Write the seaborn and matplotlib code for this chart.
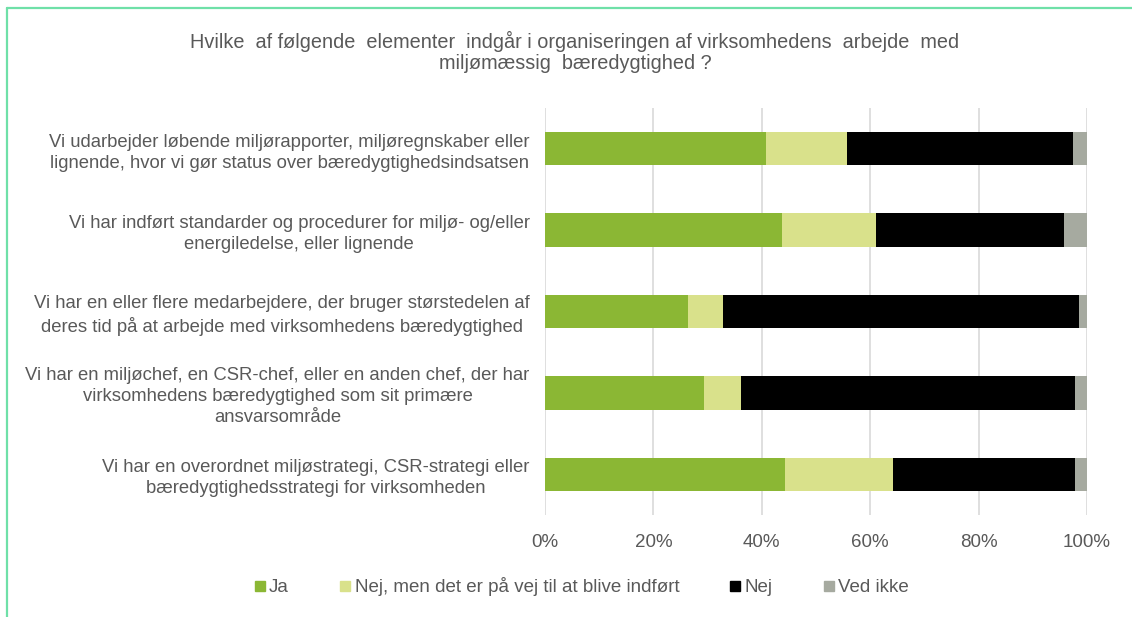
import matplotlib
matplotlib.use("Agg")
import matplotlib.pyplot as plt
from matplotlib.lines import Line2D
from matplotlib.ticker import PercentFormatter
import numpy as np
import pandas as pd
import seaborn as sns

categories = [
    "Vi udarbejder løbende miljørapporter, miljøregnskaber eller\nlignende, hvor vi gør status over bæredygtighedsindsatsen",
    "Vi har indført standarder og procedurer for miljø- og/eller\nenergiledelse, eller lignende",
    "Vi har en eller flere medarbejdere, der bruger størstedelen af\nderes tid på at arbejde med virksomhedens bæredygtighed",
    "Vi har en miljøchef, en CSR-chef, eller en anden chef, der har\nvirksomhedens bæredygtighed som sit primære\nansvarsområde",
    "Vi har en overordnet miljøstrategi, CSR-strategi eller\nbæredygtighedsstrategi for virksomheden",
]
series_names = ["Ja", "Nej, men det er på vej til at blive indført", "Nej", "Ved ikke"]
ja = [40.7, 43.8, 26.3, 29.3, 44.2]
nej_men = [15.0, 17.2, 6.5, 6.8, 20.0]
nej = [41.7, 34.8, 65.8, 61.6, 33.5]
ved_ikke = [2.6, 4.2, 1.4, 2.3, 2.3]
colors = ["#8bb734", "#d9e18b", "#000000", "#a6aaa0"]
title = "Hvilke  af følgende  elementer  indgår i organiseringen af virksomhedens  arbejde  med\nmiljømæssig  bæredygtighed ?"

sns.set_theme(style="white")
plt.rcParams["font.family"] = ["Liberation Sans", "DejaVu Sans"]
text_color = "#595959"

fig = plt.figure(figsize=(11.32, 6.17), dpi=100)
ax = fig.add_axes([545 / 1132, 1 - 515 / 617, (1087 - 545) / 1132, (515 - 108) / 617])

values = np.array([ja, nej_men, nej, ved_ikke])
cum = np.cumsum(values, axis=0)
for i in range(len(series_names) - 1, -1, -1):
    df = pd.DataFrame({"cat": categories, "val": cum[i]})
    sns.barplot(data=df, x="val", y="cat", color=colors[i], orient="h",
                width=0.41, saturation=1, ax=ax, zorder=3, linewidth=0)

ax.set_xlim(0, 100)
ax.set_xticks(np.arange(0, 101, 20))
ax.xaxis.set_major_formatter(PercentFormatter(100, decimals=0))
ax.grid(axis="x", color="#d9d9d9", linewidth=1.2, zorder=0)
ax.grid(axis="y", visible=False)
for s in ax.spines.values():
    s.set_visible(False)
ax.set_xlabel("")
ax.set_ylabel("")
ax.tick_params(axis="x", colors=text_color, labelsize=13.5, length=0, pad=14)
ax.tick_params(axis="y", colors=text_color, labelsize=13.3, length=0, pad=11)
for lab in ax.get_yticklabels():
    lab.set_multialignment("center")
    lab.set_linespacing(1.3)

fig.text(0.508, 1 - 52 / 617, title, ha="center", va="center", fontsize=14.3,
         color=text_color, linespacing=1.15)

handles = [Line2D([], [], marker="s", linestyle="none", markersize=7,
                  markerfacecolor=c, markeredgecolor=c) for c in colors]
fig.legend(handles, series_names, loc="center", bbox_to_anchor=(0.513, 1 - 587 / 617),
           ncol=4, frameon=False, fontsize=13.5, labelcolor=text_color,
           handletextpad=0.1, handlelength=0.8, columnspacing=2.6)

bc = "#6fe0a8"
fig.add_artist(Line2D([7 / 1132, 1], [1 - 8 / 617, 1 - 8 / 617], color=bc, lw=1.6,
                      transform=fig.transFigure))
fig.add_artist(Line2D([7 / 1132, 7 / 1132], [0, 1 - 8 / 617], color=bc, lw=1.6,
                      transform=fig.transFigure))

fig.savefig("out.png", dpi=100)
